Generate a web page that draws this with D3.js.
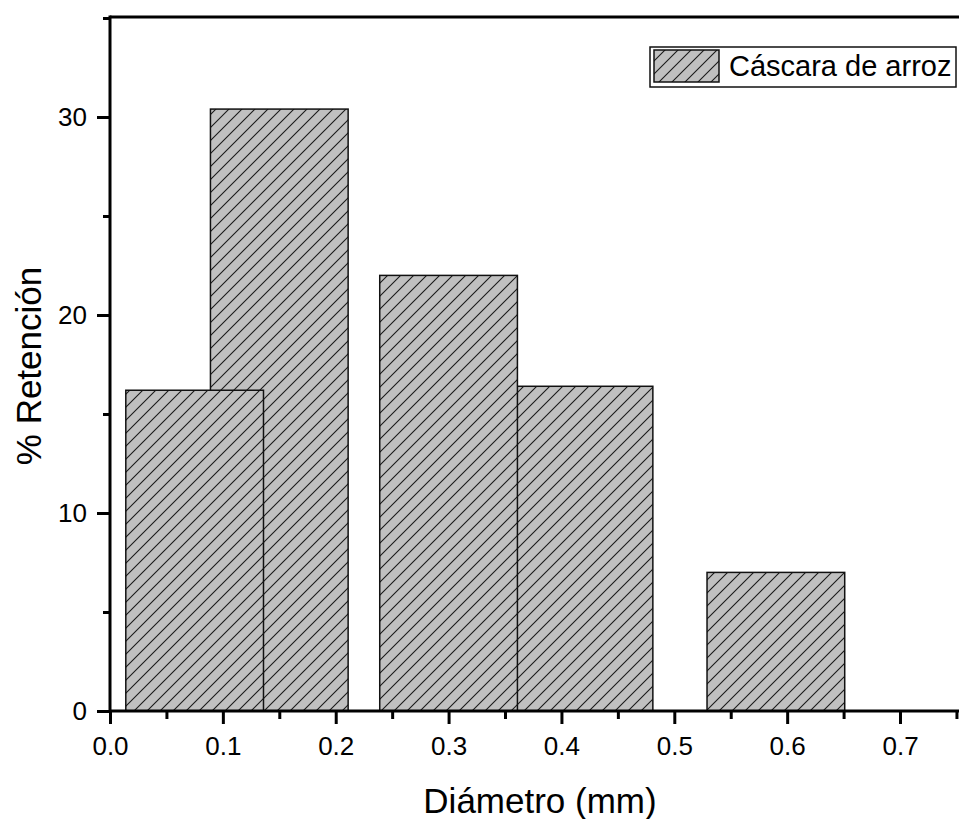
<!DOCTYPE html>
<html>
<head>
<meta charset="utf-8">
<script src="https://cdn.jsdelivr.net/npm/d3@7"></script>
<style>
  html, body { margin: 0; padding: 0; background: #fff; }
  svg { display: block; font-family: Arial, "Liberation Sans", sans-serif; }
</style>
</head>
<body>
<svg id="chart" width="959" height="819"></svg>
<script>
// Sieve retention of rice husk, by particle diameter
const diameters = [0.075, 0.15, 0.30, 0.42, 0.59];   // bar centres (mm)
const retention = [16.2, 30.4, 22.0, 16.4, 7.0];      // % retained
const barWidth = 0.122;                               // bar width in mm
const seriesName = "Cáscara de arroz";

const xMajorTicks = [0, 0.1, 0.2, 0.3, 0.4, 0.5, 0.6, 0.7];
const xMinorTicks = [0.05, 0.15, 0.25, 0.35, 0.45, 0.55, 0.65, 0.75];
const yMajorTicks = [0, 10, 20, 30];
const yMinorTicks = [5, 15, 25, 35];

const fontFamily = 'Arial, "Liberation Sans", sans-serif';
const svg = d3.select("#chart");
const plotLeft = 110, plotTop = 17, plotBottom = 711;

const x = d3.scaleLinear().domain([0, 0.76]).range([plotLeft, plotLeft + 0.76 * 1128.6]);
const y = d3.scaleLinear().domain([0, 35]).range([plotBottom, plotTop + 1]);

// diagonal hatch
const defs = svg.append("defs");
const pat = defs.append("pattern")
  .attr("id", "hatch")
  .attr("patternUnits", "userSpaceOnUse")
  .attr("width", 13).attr("height", 13);
pat.append("rect").attr("width", 13).attr("height", 13).attr("fill", "#c0c0c0");
pat.append("path")
  .attr("d", "M0,13 L13,0 M-3,3 L3,-3 M10,16 L16,10")
  .attr("stroke", "#1a1a1a").attr("stroke-width", 1.1);

// bars: later categories drawn first so earlier bars sit on top
const bars = diameters.map((d, i) => ({ d, v: retention[i] })).reverse();
svg.append("g").selectAll("rect")
  .data(bars)
  .join("rect")
  .attr("x", b => x(b.d - barWidth / 2))
  .attr("width", b => x(b.d + barWidth / 2) - x(b.d - barWidth / 2))
  .attr("y", b => y(b.v))
  .attr("height", b => y(0) - y(b.v))
  .attr("fill", "url(#hatch)")
  .attr("stroke", "#111")
  .attr("stroke-width", 1.5);

// axes
const xAxis = svg.append("g").attr("transform", `translate(0,${plotBottom})`)
  .call(d3.axisBottom(x).tickValues(xMajorTicks).tickFormat(d3.format(".1f")).tickSize(13).tickPadding(13));
const xMinor = svg.append("g").attr("transform", `translate(0,${plotBottom})`)
  .call(d3.axisBottom(x).tickValues(xMinorTicks).tickFormat("").tickSize(8));
const yAxis = svg.append("g").attr("transform", `translate(${plotLeft},0)`)
  .call(d3.axisLeft(y).tickValues(yMajorTicks).tickFormat(d3.format("d")).tickSize(13).tickPadding(10));
const yMinor = svg.append("g").attr("transform", `translate(${plotLeft},0)`)
  .call(d3.axisLeft(y).tickValues(yMinorTicks).tickFormat("").tickSize(7));

[xAxis, xMinor, yAxis, yMinor].forEach(g => {
  g.attr("font-family", fontFamily).attr("font-size", 26);
  g.select(".domain").remove();
  g.selectAll(".tick line").attr("stroke", "#000").attr("stroke-width", 3);
  g.selectAll(".tick text").attr("fill", "#000");
});

// axis lines (frame top and axes)
svg.append("line").attr("x1", plotLeft).attr("x2", x(0.76)).attr("y1", plotBottom).attr("y2", plotBottom)
  .attr("stroke", "#000").attr("stroke-width", 3);
svg.append("line").attr("x1", plotLeft).attr("x2", x(0.76)).attr("y1", plotTop).attr("y2", plotTop)
  .attr("stroke", "#000").attr("stroke-width", 3);
svg.append("line").attr("x1", plotLeft).attr("x2", plotLeft).attr("y1", plotTop - 1.5).attr("y2", plotBottom + 1.5)
  .attr("stroke", "#000").attr("stroke-width", 3);

// axis titles
svg.append("text")
  .attr("x", 540).attr("y", 813)
  .attr("text-anchor", "middle")
  .attr("font-family", fontFamily)
  .attr("font-size", 35)
  .text("Diámetro (mm)");
svg.append("text")
  .attr("transform", "translate(41,366) rotate(-90)")
  .attr("text-anchor", "middle")
  .attr("font-family", fontFamily)
  .attr("font-size", 35)
  .text("% Retención");

// legend
const lg = svg.append("g");
lg.append("rect").attr("x", 650).attr("y", 47).attr("width", 306).attr("height", 40)
  .attr("fill", "#fff").attr("stroke", "#111").attr("stroke-width", 1.5);
lg.append("rect").attr("x", 654).attr("y", 50).attr("width", 65).attr("height", 32)
  .attr("fill", "url(#hatch)").attr("stroke", "#111").attr("stroke-width", 1.5);
lg.append("text").attr("x", 729).attr("y", 76)
  .attr("font-family", fontFamily)
  .attr("font-size", 29)
  .text(seriesName);
</script>
</body>
</html>
